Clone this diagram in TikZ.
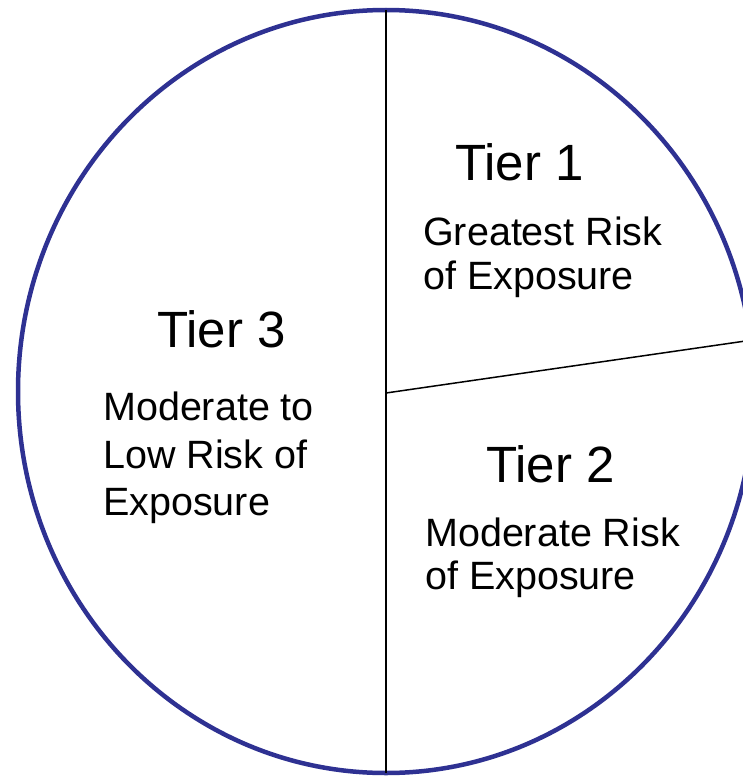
\documentclass[tikz,border=0pt]{standalone}
\usepackage{fontspec}
\setmainfont{Liberation Sans}
\usetikzlibrary{shapes.geometric}
\definecolor{piecol}{RGB}{46,49,146}
\tikzset{
  big/.style={anchor=base west, inner sep=0pt, font=\fontsize{51}{51}\selectfont},
  small/.style={anchor=base west, inner sep=0pt, font=\fontsize{39.5}{39.5}\selectfont},
  divider/.style={draw=black, line width=2pt},
}
\begin{document}
\begin{tikzpicture}[x=1pt,y=-1pt]
\useasboundingbox (0,0) rectangle (743,776);
\node[ellipse, draw=piecol, line width=4.5pt, inner sep=0pt, outer sep=0pt,
      minimum width=736pt, minimum height=763pt] (pie) at (386,391.5) {};
\coordinate (hub) at (386,393);
\draw[divider] (pie.north) -- (pie.south);
\draw[black, line width=1.5pt] (hub) -- (pie.8.8);
\node[big] (t1) at (455,180) {Tier 1};
\node[small] (t1a) at (423,245) {Greatest Risk};
\node[small] (t1b) at (423,289) {of Exposure};
\node[big] (t2) at (486,482) {Tier 2};
\node[small] (t2a) at (425,546) {Moderate Risk};
\node[small] (t2b) at (425,589) {of Exposure};
\node[big] (t3) at (157,347) {Tier 3};
\node[small] (t3a) at (103,420) {Moderate to};
\node[small] (t3b) at (103,468) {Low Risk of};
\node[small] (t3c) at (103,515) {Exposure};
\end{tikzpicture}
\end{document}
